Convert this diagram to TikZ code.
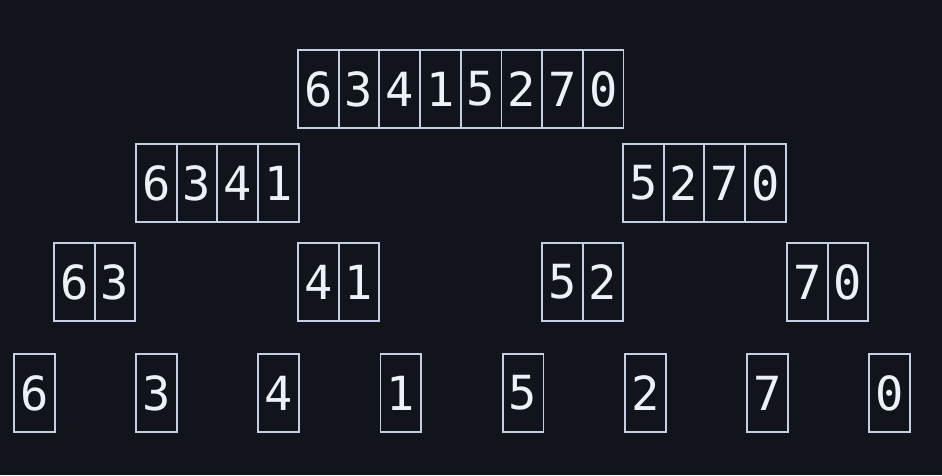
\documentclass[tikz,border=0pt]{standalone}
\usepackage{fontspec}
\newfontfamily\digitfont{DejaVu Sans Mono}
\definecolor{bgcol}{RGB}{17,20,26}
\definecolor{linecol}{RGB}{196,206,228}
\definecolor{digitcol}{RGB}{236,240,248}
\begin{document}
\begin{tikzpicture}[x=1pt, y=-1pt,
		cell/.style={draw=linecol, line width=1.8pt, anchor=north west,
			minimum width=40.7pt, minimum height=78pt, inner sep=0pt,
			text=digitcol, font=\digitfont\fontsize{47}{47}\selectfont}]
		\fill[bgcol] (0, 0) rectangle (942, 475);
		\useasboundingbox (0, 0) rectangle (942, 475);
		% whole array
		\foreach \d [count=\i from 0] in {6,3,4,1,5,2,7,0}
			\node[cell] (all\i) at (297 + 40.7*\i, 49) {\d};
		% halves
		\foreach \d [count=\i from 0] in {6,3,4,1}
			\node[cell] (left\i) at (135 + 40.7*\i, 143) {\d};
		\foreach \d [count=\i from 0] in {5,2,7,0}
			\node[cell] (right\i) at (622 + 40.7*\i, 143) {\d};
		% quarters
		\foreach \x/\a/\b [count=\j] in {53/6/3, 297/4/1, 541/5/2, 786/7/0} {
			\node[cell] (quart\j a) at (\x, 242) {\a};
			\node[cell] (quart\j b) at (\x + 40.7, 242) {\b};
		}
		% single cells
		\foreach \d [count=\i from 0] in {6,3,4,1,5,2,7,0}
			\node[cell] (one\i) at (13 + 122.2*\i, 353) {\d};
		\end{tikzpicture}
\end{document}
